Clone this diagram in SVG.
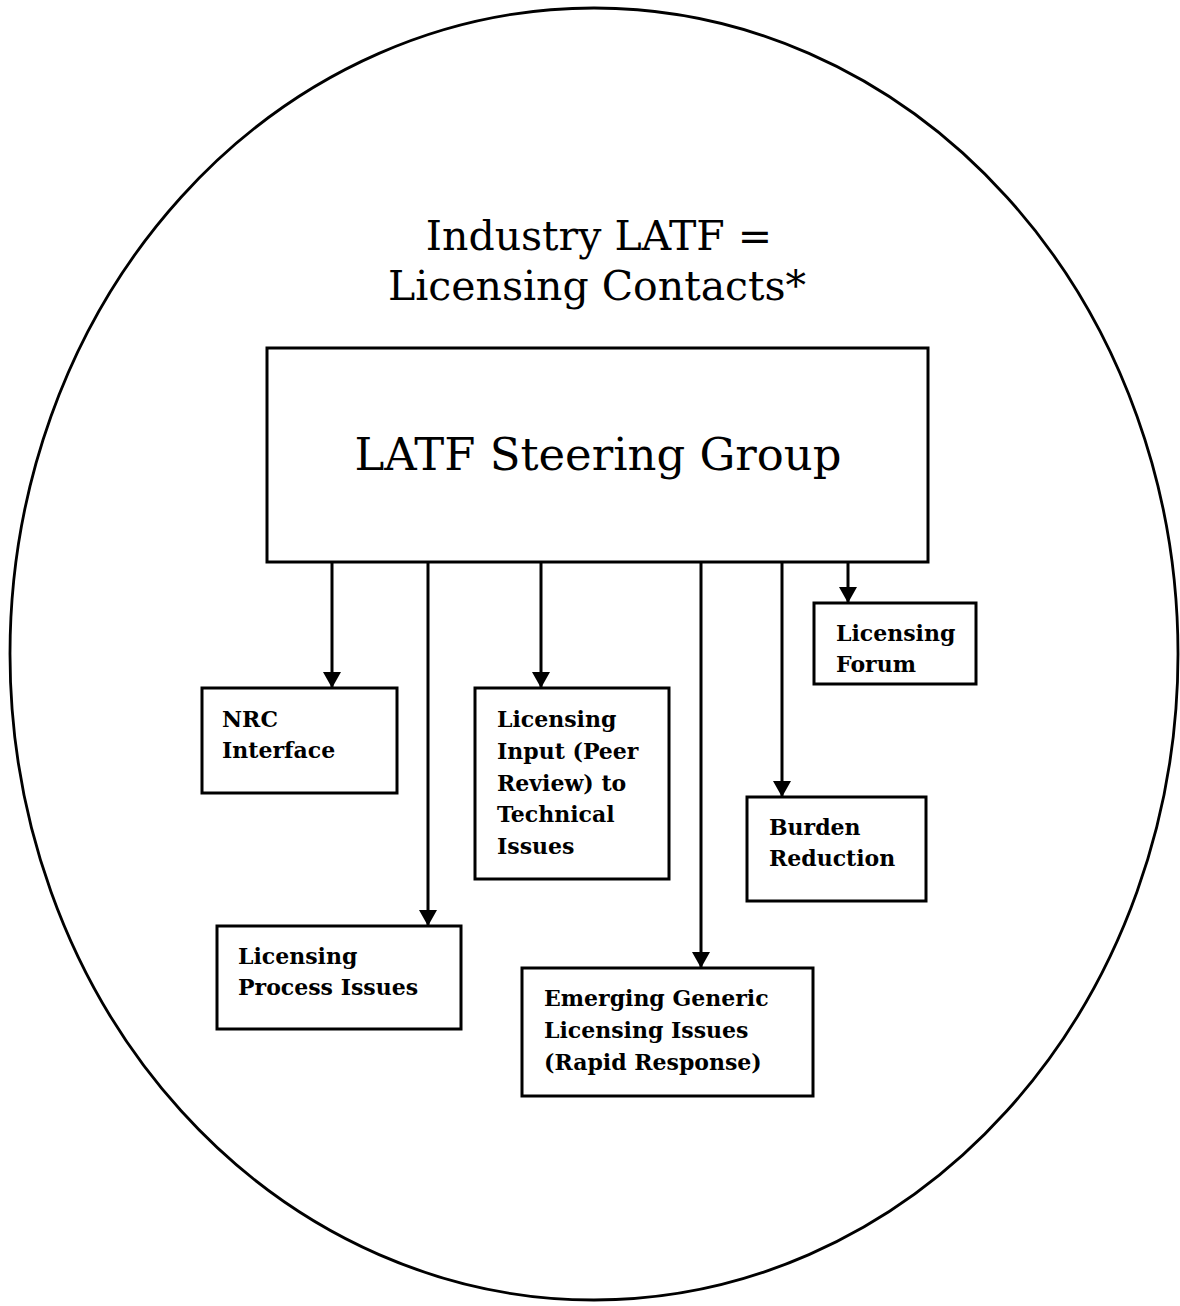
<svg xmlns="http://www.w3.org/2000/svg" width="1180" height="1306" viewBox="0 0 1180 1306">
<defs>
<style>
.box{fill:#fff;stroke:#000;stroke-width:3}
.lbl{font-family:"DejaVu Serif","Liberation Serif",serif;font-weight:bold;font-size:22px;fill:#000}
.hdr{font-family:"DejaVu Serif","Liberation Serif",serif;font-size:41px;fill:#000;text-anchor:middle}
.conn{stroke:#000;stroke-width:3;fill:none;marker-end:url(#ah)}
</style>
<marker id="ah" markerUnits="userSpaceOnUse" markerWidth="16" markerHeight="18" viewBox="0 0 16 18" refX="15" refY="9" orient="auto">
<path d="M0,0 L16,9 L0,18 Z" fill="#000"/>
</marker>
</defs>
<rect width="1180" height="1306" fill="#fff"/>
<g id="outer">
<ellipse cx="594" cy="654" rx="584" ry="646" fill="none" stroke="#000" stroke-width="2.8"/>
<text class="hdr" x="599" y="250">Industry LATF =</text>
<text class="hdr" x="597" y="300">Licensing Contacts*</text>
</g>
<g id="connectors">
<line x1="332" y1="563" x2="332" y2="687" class="conn"/>
<line x1="428" y1="563" x2="428" y2="925" class="conn"/>
<line x1="541" y1="563" x2="541" y2="687" class="conn"/>
<line x1="701" y1="563" x2="701" y2="967" class="conn"/>
<line x1="782" y1="563" x2="782" y2="796" class="conn"/>
<line x1="848" y1="563" x2="848" y2="602" class="conn"/>
</g>
<g id="steering">
<rect class="box" x="267" y="348" width="661" height="214"/>
<text x="598" y="470" font-family="DejaVu Serif, Liberation Serif, serif" font-size="45" text-anchor="middle" textLength="487" lengthAdjust="spacingAndGlyphs">LATF Steering Group</text>
</g>
<g id="nrc">
<rect class="box" x="202" y="688" width="195" height="105"/>
<text class="lbl" x="222" y="727">NRC</text>
<text class="lbl" x="222" y="758">Interface</text>
</g>
<g id="input">
<rect class="box" x="475" y="688" width="194" height="191"/>
<text class="lbl" x="497" y="727">Licensing</text>
<text class="lbl" x="497" y="759">Input (Peer</text>
<text class="lbl" x="497" y="791">Review) to</text>
<text class="lbl" x="497" y="822">Technical</text>
<text class="lbl" x="497" y="854">Issues</text>
</g>
<g id="forum">
<rect class="box" x="814" y="603" width="162" height="81"/>
<text class="lbl" x="836" y="641">Licensing</text>
<text class="lbl" x="836" y="672">Forum</text>
</g>
<g id="burden">
<rect class="box" x="747" y="797" width="179" height="104"/>
<text class="lbl" x="769" y="835">Burden</text>
<text class="lbl" x="769" y="866">Reduction</text>
</g>
<g id="process">
<rect class="box" x="217" y="926" width="244" height="103"/>
<text class="lbl" x="238" y="964">Licensing</text>
<text class="lbl" x="238" y="995">Process Issues</text>
</g>
<g id="emerging">
<rect class="box" x="522" y="968" width="291" height="128"/>
<text class="lbl" x="544" y="1006">Emerging Generic</text>
<text class="lbl" x="544" y="1038">Licensing Issues</text>
<text class="lbl" x="544" y="1070">(Rapid Response)</text>
</g>
</svg>
